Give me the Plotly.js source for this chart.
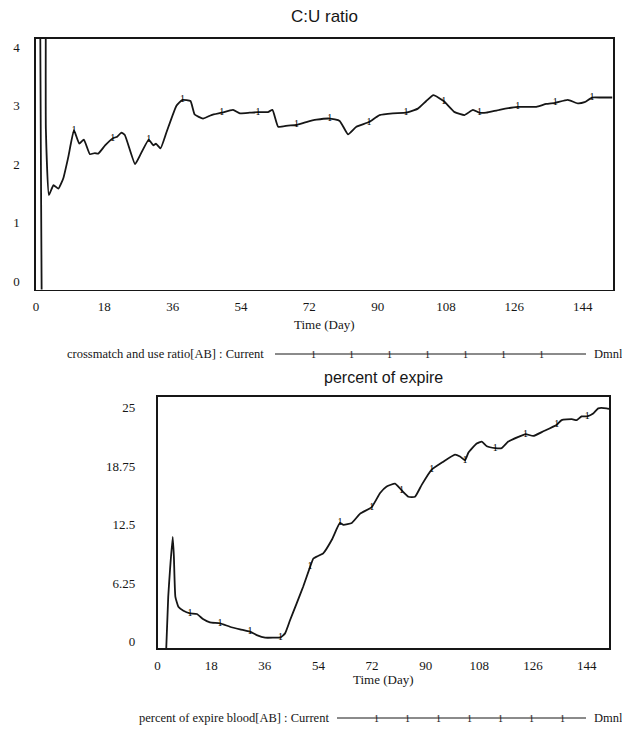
<!DOCTYPE html>
<html>
<head>
<meta charset="utf-8">
<script src="https://cdn.plot.ly/plotly-3.0.1.min.js"></script>
<style>html,body{margin:0;padding:0;background:#fff;}#chart{width:622px;height:732px;}</style>
</head>
<body>
<div id="chart"></div>
<script>
// ---- data: C:U ratio (crossmatch and use ratio[AB])
const cuDays = [1.5,1.6,2.1,2.6,3.4,4.6,5.9,7.2,8.5,10.0,11.4,12.6,14.2,15.5,16.4,18.2,20.2,21.4,22.5,23.4,26.1,27.4,29.7,30.9,31.6,32.8,34.4,37.0,38.6,40.7,41.8,44.0,46.2,48.9,51.9,53.7,56.3,58.5,61.1,62.3,63.8,66.4,68.6,71.2,73.9,77.4,80.0,82.2,84.4,87.7,90.5,94.0,97.5,100.6,102.8,104.7,107.4,110.3,112.9,115.1,116.8,118.6,122.1,126.9,131.8,134.4,136.8,140.1,142.7,144.5,146.5,148.9,151.8];
const cuVals = [-0.3,12,12,2.6,1.47,1.64,1.58,1.76,2.12,2.58,2.35,2.42,2.17,2.19,2.18,2.32,2.44,2.47,2.54,2.5,2.0,2.15,2.42,2.32,2.35,2.27,2.55,3.0,3.1,3.08,2.85,2.78,2.84,2.88,2.93,2.87,2.88,2.89,2.89,2.93,2.64,2.66,2.67,2.72,2.76,2.78,2.74,2.51,2.64,2.72,2.84,2.87,2.88,2.95,3.08,3.18,3.08,2.89,2.84,2.93,2.88,2.88,2.93,2.98,2.98,3.03,3.05,3.1,3.04,3.06,3.14,3.14,3.14];
const cuMarkDays = [10.1,20.1,29.7,39.4,49,58.7,68.3,78,87.7,97.5,107.4,117,126.9,136.8,146.5];

// ---- data: percent of expire blood[AB]
const peDays = [2.9,3.6,4.2,5.1,5.5,6.0,7.0,8.7,10.9,13.2,15.4,17.6,21.0,24.3,27.7,31.0,33.3,36.1,38.9,41.3,42.8,44.5,46.7,48.9,51.2,52.3,53.4,55.6,58.5,61.2,62.4,65.2,68.0,71.9,74.7,76.9,79.7,81.9,84.2,86.4,88.7,92.0,95.9,99.8,101.5,103.2,104.3,107.1,108.8,110.5,113.3,115.5,117.7,121.1,123.5,126.1,129.5,134.0,135.6,139.0,140.7,142.3,144.2,146.2,147.9,150.7,151.6];
const peVals = [-1,4.8,7.7,11.2,9.1,4.8,3.74,3.3,3.03,2.96,2.39,2.07,1.96,1.6,1.32,1.07,0.71,0.43,0.43,0.46,0.89,2.32,4.1,5.9,8.0,8.9,9.1,9.45,10.9,12.7,12.5,12.7,13.7,14.4,15.9,16.6,16.9,16.2,15.5,15.5,16.8,18.4,19.25,20.0,19.8,19.4,20.2,21.2,21.4,20.9,20.7,20.7,21.4,21.9,22.2,22.0,22.5,23.2,23.7,23.8,23.7,24.1,24.1,24.4,24.96,24.96,24.9];
const peMarkDays = [10.9,21,31,41.3,51.2,61.2,71.9,81.9,92.0,103.2,113.3,123.5,134.0,144.2];

// ---- tick labels
const timeTicks = [0,18,36,54,72,90,108,126,144];
const cuTicks = [0,1,2,3,4];
const peTicks = [0,6.25,12.5,18.75,25];
const peTickText = ['0','6.25','12.5','18.75','25'];

// ---- text
const cuTitle = 'C:U ratio';
const peTitle = 'percent of expire';
const timeLabel = 'Time (Day)';
const cuLegend = 'crossmatch and use ratio[AB] : Current';
const peLegend = 'percent of expire blood[AB] : Current';
const unitLabel = 'Dmnl';

// pick existing data points nearest to the marker days
function pickMarks(days, vals, marks) {
  const xs = [], ys = [];
  marks.forEach(m => {
    let bi = 0, bd = Infinity;
    days.forEach((d, i) => { const dd = Math.abs(d - m); if (dd < bd) { bd = dd; bi = i; } });
    xs.push(days[bi]); ys.push(vals[bi]);
  });
  return {xs, ys};
}
const cuM = pickMarks(cuDays, cuVals, cuMarkDays);
const peM = pickMarks(peDays, peVals, peMarkDays);

const W = 622, H = 732;
const px = v => v / W;
const py = v => 1 - v / H;

const serif = 'Liberation Serif, Times New Roman, serif';
const sans = 'Liberation Sans, Arial, sans-serif';
const ink = '#161616';

const traces = [
  {x: cuDays, y: cuVals, xaxis: 'x', yaxis: 'y', mode: 'lines', line: {color: ink, width: 1.8, shape: 'spline', smoothing: 0.4}, hoverinfo: 'skip'},
  {x: cuM.xs, y: cuM.ys, xaxis: 'x', yaxis: 'y', mode: 'text', text: cuM.xs.map(() => '1'), textposition: 'middle center', textfont: {family: serif, size: 10, color: '#000'}, cliponaxis: false, hoverinfo: 'skip'},
  {x: peDays, y: peVals, xaxis: 'x2', yaxis: 'y2', mode: 'lines', line: {color: ink, width: 1.8, shape: 'spline', smoothing: 0.4}, hoverinfo: 'skip'},
  {x: peM.xs, y: peM.ys, xaxis: 'x2', yaxis: 'y2', mode: 'text', text: peM.xs.map(() => '1'), textposition: 'middle center', textfont: {family: serif, size: 10, color: '#000'}, cliponaxis: false, hoverinfo: 'skip'}
];

const axBase = {
  showline: true, mirror: true, linecolor: ink, linewidth: 1.6,
  showgrid: false, zeroline: false, fixedrange: true,
  ticks: 'outside', tickcolor: 'rgba(0,0,0,0)',
  tickfont: {family: serif, size: 13, color: ink}
};

const annotations = [];
function txt(x, y, text, size, family, xanchor) {
  annotations.push({xref: 'paper', yref: 'paper', x: px(x), y: py(y), text: text, showarrow: false,
    xanchor: xanchor || 'center', yanchor: 'middle', font: {family: family, size: size, color: ink}});
}
txt(324.5, 17, cuTitle, 17, sans);
txt(324.5, 324, timeLabel, 13, serif);
txt(383.4, 377, peTitle, 16, sans);
txt(383.4, 679, timeLabel, 13, serif);
txt(266, 354, cuLegend, 12.5, serif, 'right');
txt(592, 354, unitLabel, 12.5, serif, 'left');
txt(331, 718, peLegend, 12.5, serif, 'right');
txt(592, 718, unitLabel, 12.5, serif, 'left');

const shapes = [
  {type: 'line', xref: 'paper', yref: 'paper', x0: px(275), x1: px(586), y0: py(354), y1: py(354), line: {color: ink, width: 1}},
  {type: 'line', xref: 'paper', yref: 'paper', x0: px(337), x1: px(586), y0: py(718), y1: py(718), line: {color: ink, width: 1}}
];
// legend sample markers
[0,1,2,3,4,5,6].forEach(i => {
  txt(313 + i * 38, 354, '1', 10, serif);
  txt(376 + i * 31, 718, '1', 10, serif);
});

const layout = {
  width: W, height: H,
  margin: {l: 0, r: 0, t: 0, b: 0},
  paper_bgcolor: '#fff', plot_bgcolor: '#fff',
  showlegend: false,
  xaxis: Object.assign({}, axBase, {domain: [px(36), px(613)], range: [0, 152], tickvals: timeTicks, ticklen: 4, anchor: 'y'}),
  yaxis: Object.assign({}, axBase, {domain: [py(289.5), py(38.5)], range: [-0.145, 4.15], tickvals: cuTicks, ticklen: 12, anchor: 'x'}),
  xaxis2: Object.assign({}, axBase, {domain: [px(157.5), px(609.3)], range: [0, 151.6], tickvals: timeTicks, ticklen: 4, anchor: 'y2'}),
  yaxis2: Object.assign({}, axBase, {domain: [py(648.3), py(396.7)], range: [-0.706, 26.2], tickvals: peTicks, ticktext: peTickText, ticklen: 18, anchor: 'x2'}),
  annotations: annotations,
  shapes: shapes
};

Plotly.newPlot('chart', traces, layout, {staticPlot: true, displayModeBar: false});
</script>
</body>
</html>
